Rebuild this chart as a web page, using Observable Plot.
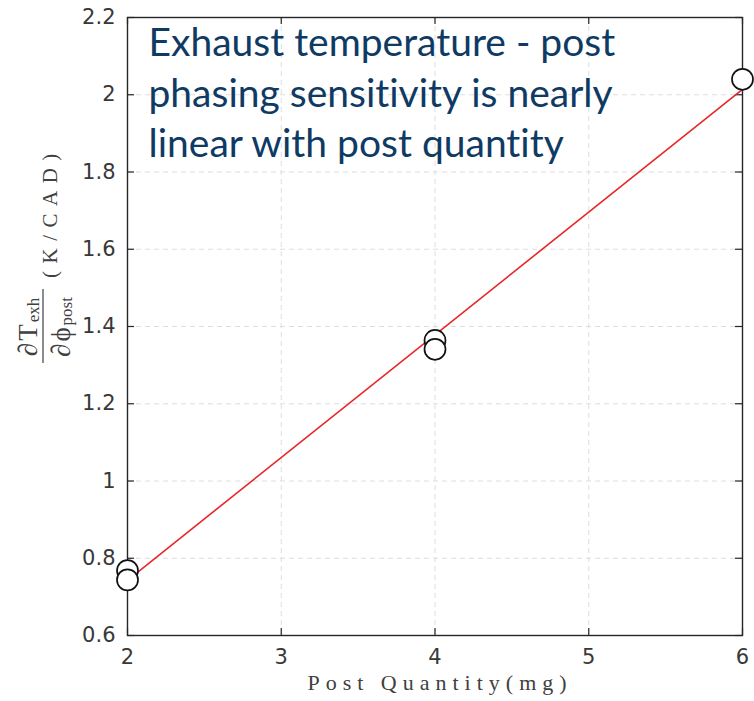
<!DOCTYPE html>
<html>
<head>
<meta charset="utf-8">
<script src="https://cdn.jsdelivr.net/npm/d3@7"></script>
<script src="https://cdn.jsdelivr.net/npm/@observablehq/plot@0.6"></script>
<style>
  html, body { margin: 0; padding: 0; background: #fff; }
  #chart svg { display: block; }
  #chart svg text { font-variant-ligatures: none; }
</style>
</head>
<body>
<div id="chart"></div>
<script>
// Measured sensitivity of exhaust temperature to post-injection phasing
const postQuantity = [2, 2, 4, 4, 6];                       // mg
const sensitivity  = [0.768, 0.744, 1.364, 1.341, 2.040];   // K/CAD

const xTicks = [2, 3, 4, 5, 6];
const xTickLabels = ["2", "3", "4", "5", "6"];
const yTicks = [0.6, 0.8, 1, 1.2, 1.4, 1.6, 1.8, 2, 2.2];
const yTickLabels = ["0.6", "0.8", "1", "1.2", "1.4", "1.6", "1.8", "2", "2.2"];

const headline = [
  "Exhaust temperature - post",
  "phasing sensitivity is nearly",
  "linear with post quantity"
];
const xLabel = "Post Quantity(mg)";
const yUnit = "(K/CAD)";

const points = postQuantity.map((q, i) => ({q, s: sensitivity[i]}));

const W = 754, H = 701;
const mL = 127, mR = 12, mT = 17, mB = 66;
const innerW = W - mL - mR, innerH = H - mT - mB;
const tickLen = 7;
const axisInk = "#262626";
const labelInk = "#383838";

const plot = Plot.plot({
  width: W,
  height: H,
  marginLeft: mL,
  marginRight: mR,
  marginTop: mT,
  marginBottom: mB,
  x: {domain: [2, 6]},
  y: {domain: [0.6, 2.2]},
  style: {background: "#fff", fontFamily: "'DejaVu Sans', sans-serif", fontSize: "21px"},
  marks: [
    // dashed grid
    Plot.gridX(xTicks.slice(1, -1), {stroke: "#dedede", strokeOpacity: 1, strokeDasharray: "5,4"}),
    Plot.gridY(yTicks.slice(1, -1), {stroke: "#dedede", strokeOpacity: 1, strokeDasharray: "5,4"}),
    // inward-pointing ticks on all four sides of the box
    Plot.ruleX(xTicks, {x: d => d, insetTop: innerH - tickLen, stroke: axisInk, strokeWidth: 1.2}),
    Plot.ruleX(xTicks, {x: d => d, insetBottom: innerH - tickLen, stroke: axisInk, strokeWidth: 1.2}),
    Plot.ruleY(yTicks, {y: d => d, insetRight: innerW - tickLen, stroke: axisInk, strokeWidth: 1.2}),
    Plot.ruleY(yTicks, {y: d => d, insetLeft: innerW - tickLen, stroke: axisInk, strokeWidth: 1.2}),
    // tick labels
    Plot.axisX(xTicks, {
      tickSize: 0, tickPadding: 14, fontSize: 21, color: labelInk, label: null,
      tickFormat: d => xTickLabels[xTicks.indexOf(d)]
    }),
    Plot.axisY(yTicks, {
      tickSize: 0, tickPadding: 12, fontSize: 21, color: labelInk, label: null,
      tickFormat: d => yTickLabels[yTicks.indexOf(d)]
    }),
    Plot.frame({stroke: axisInk, strokeWidth: 1.4}),
    // least-squares fit through the measurements
    Plot.linearRegressionY(points, {x: "q", y: "s", stroke: "#e8262a", strokeWidth: 1.6, ci: 0}),
    // measurements
    Plot.dot(points, {x: "q", y: "s", r: 10.5, stroke: "#111", strokeWidth: 1.7, fill: "#fff"}),
    // headline inside the axes
    Plot.text([headline.join("\n")], {
      text: d => d,
      frameAnchor: "top-left",
      textAnchor: "start",
      lineAnchor: "top",
      dx: 21,
      dy: 3,
      fontSize: 39,
      lineHeight: 50.5 / 39,
      fill: "#0e3a64",
      fontFamily: "Lato, 'Open Sans', sans-serif"
    })
  ]
});

const svg = d3.select(plot);
const serif = "'Liberation Serif', 'Times New Roman', serif";

// x-axis title
svg.append("text")
  .attr("x", 440)
  .attr("y", 690)
  .attr("text-anchor", "middle")
  .attr("font-family", serif)
  .attr("font-size", 22)
  .attr("letter-spacing", 6)
  .attr("fill", "#404040")
  .text(xLabel);

// y-axis title: ∂T_exh / ∂ϕ_post (K/CAD), rotated to read upward
const g = svg.append("g")
  .attr("transform", "rotate(-90)")
  .attr("font-family", serif)
  .attr("fill", "#404040");

const num = g.append("text")
  .attr("x", -327).attr("y", 37)
  .attr("text-anchor", "middle")
  .attr("font-size", 27);
num.append("tspan").attr("letter-spacing", 2).text("∂T");
num.append("tspan").attr("font-size", 17).attr("dy", 2).text("exh");

g.append("line")
  .attr("x1", -363).attr("x2", -289)
  .attr("y1", 43).attr("y2", 43)
  .attr("stroke", "#404040")
  .attr("stroke-width", 1.2);

const den = g.append("text")
  .attr("x", -327).attr("y", 70)
  .attr("text-anchor", "middle")
  .attr("font-size", 27);
den.append("tspan").attr("letter-spacing", 2).text("∂ϕ");
den.append("tspan").attr("font-size", 17).attr("dy", 2).text("post");

g.append("text")
  .attr("x", -278).attr("y", 57)
  .attr("text-anchor", "start")
  .attr("font-size", 21)
  .attr("letter-spacing", 7.5)
  .text(yUnit);

document.getElementById("chart").appendChild(plot);
</script>
</body>
</html>
